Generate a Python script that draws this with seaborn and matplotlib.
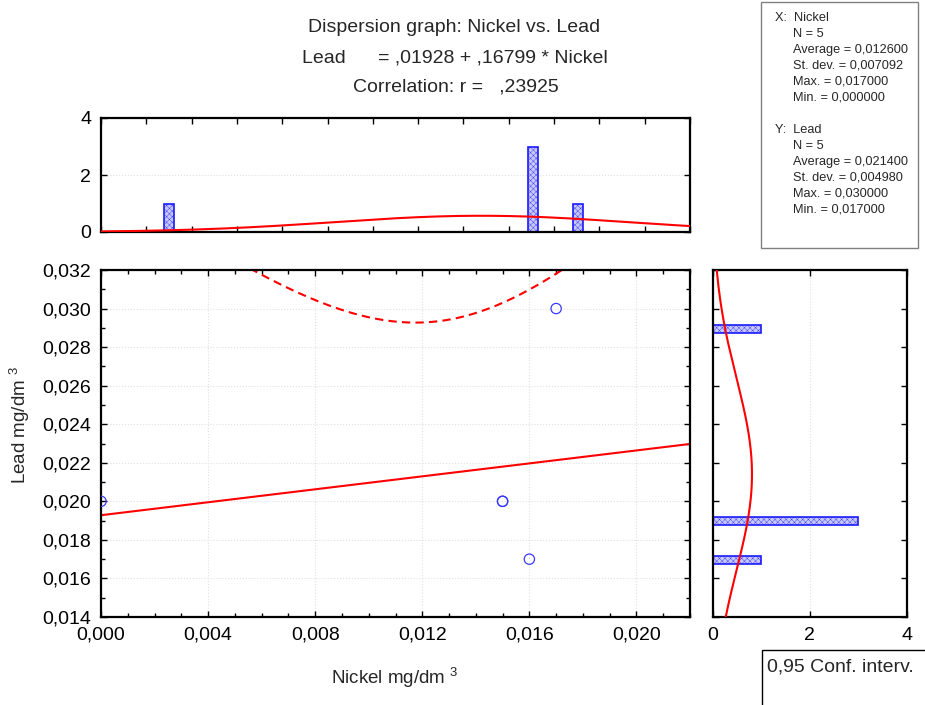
import numpy as np
import pandas as pd
import matplotlib
matplotlib.use("Agg")
import matplotlib.pyplot as plt
from matplotlib.patches import Rectangle
from matplotlib.ticker import FuncFormatter, MultipleLocator
import seaborn as sns

# Datos
nickel = [0.000, 0.015, 0.015, 0.016, 0.017]
lead = [0.020, 0.020, 0.020, 0.017, 0.030]

# histograma superior (Nickel)
hist_x_pos = [0.00255, 0.01612, 0.01782]
hist_x_cnt = [1, 3, 1]
# histograma derecho (Lead)
hist_y_pos = [0.02895, 0.01897, 0.01697]
hist_y_cnt = [1, 3, 1]

# curvas normales (media, desv., altura)
curve_x = (0.0142, 0.0055, 0.57)
curve_y = (0.0214, 0.00498, 0.81)

intercept = 0.01928
slope = 0.16799
t_975_3 = 3.182446

stats_lines = ["X:  Nickel", "N = 5", "Average = 0,012600", "St. dev. = 0,007092",
               "Max. = 0,017000", "Min. = 0,000000", "",
               "Y:  Lead", "N = 5", "Average = 0,021400", "St. dev. = 0,004980",
               "Max. = 0,030000", "Min. = 0,017000"]

df = pd.DataFrame({"Nickel": nickel, "Lead": lead})

sns.set_style("white")
plt.rcParams["font.family"] = ["Liberation Sans", "DejaVu Sans"]
plt.rcParams["mathtext.fontset"] = "custom"
plt.rcParams["mathtext.rm"] = "Liberation Sans"
plt.rcParams["mathtext.it"] = "Liberation Sans:italic"
plt.rcParams["hatch.linewidth"] = 0.25

W, H = 925, 705
fig = plt.figure(figsize=(W / 100, H / 100), dpi=100)


def box(x0, y0, x1, y1):
    return [x0 / W, 1 - y1 / H, (x1 - x0) / W, (y1 - y0) / H]


def fpos(x, y):
    return x / W, 1 - y / H


ax = fig.add_axes(box(101, 270, 690, 617))
ax_top = fig.add_axes(box(101, 118, 690, 232))
ax_right = fig.add_axes(box(712.7, 270, 906.7, 617))

comma3 = FuncFormatter(lambda v, p: f"{v:.3f}".replace(".", ","))
tick_fs = 14
red = "#ff0000"
blue = "#1a1aff"

# --- grafico principal
xmin, xmax = 0.0, 0.022
ymin, ymax = 0.014, 0.032
xs = np.linspace(xmin, xmax, 300)
x_arr = np.array(nickel)
y_arr = np.array(lead)
n = len(x_arr)
xbar = x_arr.mean()
sxx = ((x_arr - xbar) ** 2).sum()
resid = y_arr - (intercept + slope * x_arr)
s = np.sqrt((resid ** 2).sum() / (n - 2))
fit = intercept + slope * xs
half = t_975_3 * s * np.sqrt(1 / n + (xs - xbar) ** 2 / sxx)

ax.plot(xs, fit, color=red, lw=1.5)
ax.plot(xs, fit + half, color=red, lw=1.5, ls=(0, (4, 2.5)))
ax.plot(xs, fit - half, color=red, lw=1.5, ls=(0, (4, 2.5)))
sns.scatterplot(data=df, x="Nickel", y="Lead", ax=ax, marker="o", s=55,
                facecolor="none", edgecolor="#3a3aff", linewidth=0.9, zorder=3)
ax.set_xlim(xmin, xmax)
ax.set_ylim(ymin, ymax)
ax.xaxis.set_major_locator(MultipleLocator(0.004))
ax.xaxis.set_minor_locator(MultipleLocator(0.001))
ax.yaxis.set_major_locator(MultipleLocator(0.002))
ax.yaxis.set_minor_locator(MultipleLocator(0.001))
ax.xaxis.set_major_formatter(comma3)
ax.yaxis.set_major_formatter(comma3)
ax.grid(True, which="major", color="#e0e0e0", ls=":", lw=0.8)
ax.set_xlabel("")
ax.set_ylabel("")

# --- histograma superior
ax_top.bar(hist_x_pos, hist_x_cnt, width=0.00037, facecolor="#c8c8f6",
           edgecolor=blue, linewidth=1.2, hatch="xxxxxx", zorder=2)
mx, sx, hx = curve_x
ax_top.plot(xs, hx * np.exp(-0.5 * ((xs - mx) / sx) ** 2), color=red, lw=1.5, zorder=3)
ax_top.set_xlim(xmin, xmax)
ax_top.set_ylim(0, 4)
ax_top.set_yticks([0, 2, 4])
ax_top.set_xticks(np.linspace(xmin, xmax, 14))
ax_top.set_xticklabels([])
ax_top.grid(True, axis="y", color="#e0e0e0", ls=":", lw=0.8)

# --- histograma derecho
ax_right.barh(hist_y_pos, hist_y_cnt, height=0.0004, facecolor="#c8c8f6",
              edgecolor=blue, linewidth=1.2, hatch="xxxxxx", zorder=2)
ys = np.linspace(ymin, ymax, 300)
my, sy, hy = curve_y
ax_right.plot(hy * np.exp(-0.5 * ((ys - my) / sy) ** 2), ys, color=red, lw=1.5, zorder=3)
ax_right.set_ylim(ymin, ymax)
ax_right.set_xlim(0, 4)
ax_right.set_xticks([0, 2, 4])
ax_right.yaxis.set_major_locator(MultipleLocator(0.002))
ax_right.set_yticklabels([])
ax_right.grid(True, axis="x", color="#e0e0e0", ls=":", lw=0.8)

for a in (ax, ax_top, ax_right):
    for sp in a.spines.values():
        sp.set_visible(True)
        sp.set_color("black")
        sp.set_linewidth(1.6)
    a.tick_params(which="both", direction="in", top=True, right=True,
                  bottom=True, left=True, labelsize=tick_fs, colors="black",
                  length=4, width=1)
    a.tick_params(which="minor", length=3)
    a.tick_params(axis="both", pad=7)

# --- textos
fs_t = 14
fig.text(*fpos(454, 28), "Dispersion graph: Nickel vs. Lead", ha="center", va="center", fontsize=fs_t)
fig.text(*fpos(455, 58), "Lead      = ,01928 + ,16799 * Nickel", ha="center", va="center", fontsize=fs_t)
fig.text(*fpos(456, 87), "Correlation: r =   ,23925", ha="center", va="center", fontsize=fs_t)
fig.text(*fpos(395, 678), "Nickel mg/dm $^{3}$", ha="center", va="center", fontsize=13.5)
fig.text(*fpos(20, 425), "Lead mg/dm $^{3}$", ha="center", va="center", fontsize=13.5, rotation=90)

# cuadro de estadisticas
fig.patches.append(Rectangle(fpos(761, 248), 157 / W, 246 / H, transform=fig.transFigure,
                             fill=False, edgecolor="#808080", linewidth=1))
for i, line in enumerate(stats_lines):
    if not line:
        continue
    xpos = 775 if line[:2] in ("X:", "Y:") else 793
    fig.text(*fpos(xpos, 18 + 16 * i), line, ha="left", va="center", fontsize=9.2)

# cuadro del intervalo de confianza
fig.patches.append(Rectangle(fpos(762, 710), 170 / W, 60 / H, transform=fig.transFigure,
                             fill=False, edgecolor="black", linewidth=1))
fig.text(*fpos(767, 667), "0,95 Conf. interv.", ha="left", va="center", fontsize=14)

fig.savefig("out.png", dpi=100)
